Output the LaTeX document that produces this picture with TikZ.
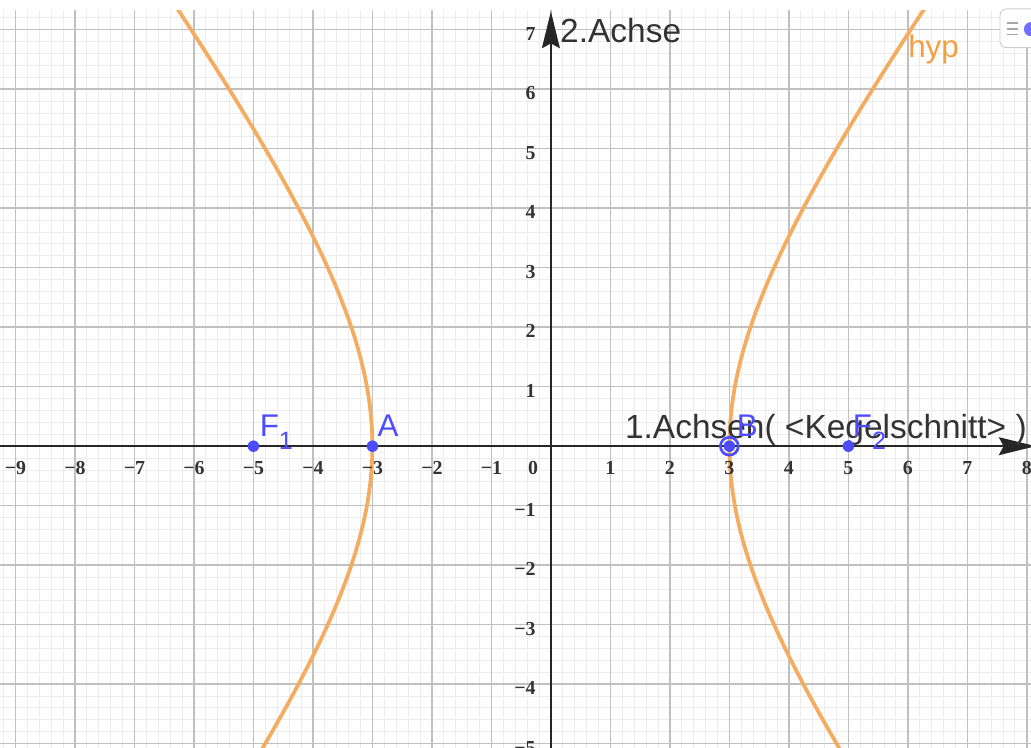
\documentclass[tikz,border=0pt]{standalone}
\usepackage{fontspec}
\setmainfont{Liberation Serif}
\setsansfont{Liberation Sans}
\usetikzlibrary{arrows.meta}

\definecolor{hypcol}{RGB}{244,172,96}
\definecolor{hyptext}{RGB}{245,158,66}
\definecolor{ptblue}{RGB}{77,77,255}
\definecolor{gridmajor}{RGB}{192,192,192}
\definecolor{gridminor}{RGB}{236,236,236}

\tikzset{
  pt/.style={circle, fill=ptblue, inner sep=0pt, minimum size=5.5pt},
  ptlabel/.style={text=ptblue, font=\sffamily\fontsize{15}{15}\selectfont, anchor=base west, inner sep=0pt},
  ticklabel/.style={font=\bfseries\fontsize{9.5}{10}\selectfont, text=black!80, inner sep=0pt},
  axlabel/.style={font=\sffamily\fontsize{16}{16}\selectfont, text=black!80, anchor=base west, inner sep=0pt},
  axisline/.style={black!85, line width=1pt, -{Stealth[length=0.62cm, width=0.3cm, inset=0.08cm]}}
}

\begin{document}
\begin{tikzpicture}
	\useasboundingbox (-9.26,-5.06) rectangle (8.07,7.5);
	
	\begin{scope}
		\clip (-9.26,-5.06) rectangle (8.07,7.33);
		\draw[gridminor, line width=0.45pt, step=0.2] (-9.4,-5.2) grid (8.2,7.4);
		\draw[gridmajor, line width=0.7pt, step=1] (-9.4,-5.2) grid (8.2,7.4);
		
		% hyp
		\draw[hypcol, line width=1.8pt, domain=-1.2:1.45, samples=80, variable=\t] plot ({3*cosh(\t)}, {4*sinh(\t)});
		\draw[hypcol, line width=1.8pt, domain=-1.2:1.45, samples=80, variable=\t] plot ({-3*cosh(\t)}, {4*sinh(\t)});
	\end{scope}
	
	\coordinate (xs) at (-9.4, 0);
	\coordinate (xe) at (8.15, 0);
	\coordinate (ys) at (0, -5.2);
	\coordinate (ye) at (0, 7.31);
	\draw[axisline] (xs) -- (xe);
	\draw[axisline] (ys) -- (ye);
	
	\foreach \x in {1,...,8}
		\node[ticklabel] (xp\x) at (\x, -0.37) {\x};
	\foreach \x in {1,...,9}
		\node[ticklabel] (xm\x) at (-\x, -0.37) {−\x};
	\foreach \y in {1,...,7}
		\node[ticklabel, anchor=east] (yp\y) at (-0.25, \y-0.07) {\y};
	\foreach \y in {1,...,5}
		\node[ticklabel, anchor=east] (ym\y) at (-0.25, -\y-0.07) {−\y};
	\node[ticklabel] (o) at (-0.3, -0.37) {0};
	
	\node[axlabel] (ach2) at (0.15, 6.79) {2.Achse};
	\node[axlabel] (ach1) at (1.24, 0.13) {1.Achsen( <Kegelschnitt> )};
	
	\node[ptlabel, text=hyptext] (hyp) at (6.0, 6.54) {hyp};
	
	\node[pt] (F1) at (-5, 0) {};
	\node[pt] (A) at (-3, 0) {};
	\node[pt] (B) at (3, 0) {};
	\node[circle, draw=ptblue, line width=1.3pt, minimum size=0.3cm, inner sep=0pt] (Bring) at (B) {};
	\node[pt] (F2) at (5, 0) {};
	
	\node[ptlabel] (lF1) at (-4.9, 0.17) {F\raisebox{-6.5pt}{\fontsize{12}{12}\selectfont 1}};
	\node[ptlabel] (lA) at (-2.92, 0.16) {A};
	\node[ptlabel] (lB) at (3.12, 0.16) {B};
	\node[ptlabel] (lF2) at (5.07, 0.17) {F\raisebox{-6.5pt}{\fontsize{12}{12}\selectfont 2}};
	
	\draw[gray!40, fill=white, rounded corners=3pt] (7.55,6.70) rectangle (8.3,7.35);
	\foreach \yy in {7.11,7.01,6.92}
		\draw[gray!70, line width=0.8pt] (7.66,\yy) -- (7.85,\yy);
	\fill[ptblue!80] (8.07,7.01) circle (0.12);
\end{tikzpicture}
\end{document}
